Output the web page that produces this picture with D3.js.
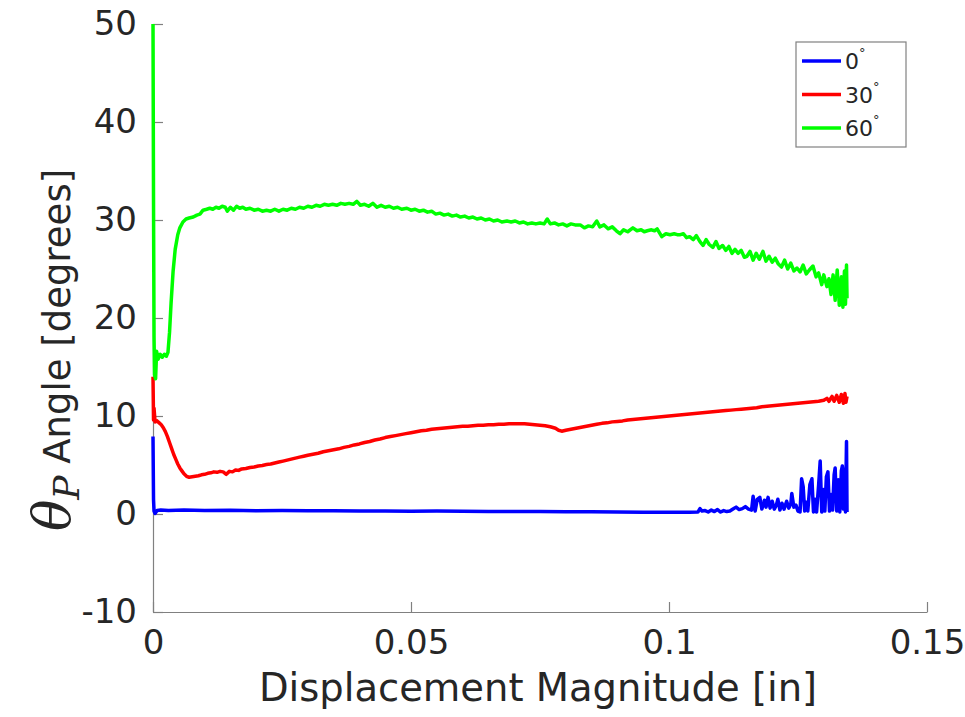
<!DOCTYPE html>
<html>
<head>
<meta charset="utf-8">
<script src="https://cdn.jsdelivr.net/npm/d3@7/dist/d3.min.js"></script>
<style>
  html, body { margin: 0; padding: 0; background: #fff; }
  svg { display: block; }
</style>
</head>
<body>
<svg id="chart" width="965" height="717"></svg>
<script>
// ---------------- DATA ----------------
const seriesNames = ["0", "30", "60"];
const seriesColors = ["#0000ff", "#ff0000", "#00ff00"];
const xTicks = [0, 0.05, 0.1, 0.15];
const xTickLabels = ["0", "0.05", "0.1", "0.15"];
const yTicks = [-10, 0, 10, 20, 30, 40, 50];
const yTickLabels = ["-10", "0", "10", "20", "30", "40", "50"];

// 60 deg series [displacement, angle]
const data60 = [
  [0,50],[0.0001,32],[0.0002,18],[0.0003,14.2],[0.0005,13.8],[0.0007,16.6],[0.0010,15.8],[0.0014,16.3],
  [0.0018,16.0],[0.0022,16.3],[0.0026,16.1],[0.0029,16.5],[0.0032,18.5],[0.0035,21.5],[0.0039,24.8],
  [0.0043,27.0],[0.0048,28.5],[0.0052,29.2],[0.0058,29.8],[0.0064,30.1],[0.0070,30.2],[0.0078,30.3],
  [0.0085,30.5],[0.0091,30.6],[0.0097,31.0],[0.0104,31.1],[0.0110,31.2],[0.0116,31.1],[0.0122,31.3],
  [0.0128,31.2],[0.0134,31.4],[0.0140,31.3],[0.0144,30.9],[0.0150,31.3],[0.0156,31.0],[0.0162,31.4],
  [0.0168,31.2],[0.0174,31.3],[0.0180,31.1],[0.0188,31.2],[0.0196,31.0],[0.0204,31.1],[0.0212,30.9],
  [0.0220,31.0],[0.0228,30.9],[0.0236,31.1],[0.0244,30.9],[0.0252,31.1],[0.0260,31.0],[0.0268,31.2],
  [0.0276,31.1],[0.0284,31.3],[0.0292,31.2],[0.0300,31.4],[0.0308,31.3],[0.0316,31.5],[0.0324,31.4],
  [0.0332,31.6],[0.0340,31.5],[0.0348,31.6],[0.0356,31.5],[0.0364,31.7],[0.0372,31.6],[0.0380,31.7],
  [0.0388,31.6],[0.0395,31.9],[0.0402,31.5],[0.0410,31.6],[0.0418,31.4],[0.0426,31.7],[0.0434,31.3],
  [0.0442,31.5],[0.0450,31.3],[0.0458,31.4],[0.0466,31.2],[0.0474,31.3],[0.0482,31.1],[0.0492,31.2],
  [0.0500,31.0],[0.0508,31.1],[0.0516,30.9],[0.0524,31.0],[0.0532,30.8],[0.0540,30.9],[0.0548,30.6],
  [0.0556,30.7],[0.0564,30.5],[0.0572,30.6],[0.0580,30.4],[0.0588,30.5],[0.0596,30.3],[0.0604,30.4],
  [0.0612,30.2],[0.0620,30.3],[0.0628,30.1],[0.0636,30.2],[0.0644,30.0],[0.0652,30.1],[0.0660,29.9],
  [0.0668,30.0],[0.0676,29.8],[0.0686,29.9],[0.0694,29.8],[0.0702,29.9],[0.0710,29.7],[0.0718,29.8],
  [0.0726,29.6],[0.0734,29.7],[0.0742,29.6],[0.0750,29.7],[0.0758,29.6],[0.0764,30.1],[0.0770,29.6],
  [0.0778,29.7],[0.0786,29.5],[0.0794,29.6],[0.0802,29.4],[0.0810,29.6],[0.0818,29.5],[0.0828,29.5],
  [0.0836,29.2],[0.0844,29.4],[0.0852,29.3],[0.0860,29.9],[0.0866,29.3],[0.0874,29.5],[0.0882,29.1],
  [0.0890,29.3],[0.0898,28.9],[0.0905,28.6],[0.0912,29.0],[0.0920,28.8],[0.0930,29.2],[0.0938,28.9],
  [0.0946,29.0],[0.0952,28.8],[0.0958,28.9],[0.0966,29.0],[0.0972,28.9],[0.0977,29.1],[0.0986,28.3],
  [0.0994,28.6],[0.1002,28.5],[0.1010,28.6],[0.1016,28.5],[0.1022,28.5],[0.1028,28.6],[0.1034,28.2],
  [0.1040,28.3],[0.1047,28.0],[0.1053,28.4],[0.1060,27.8],[0.1066,27.4],[0.1072,28.0],[0.1078,27.5],
  [0.1085,27.2],[0.1091,27.8],[0.1097,27.1],[0.1104,27.4],[0.1110,26.9],[0.1116,27.3],[0.1122,26.6],
  [0.1128,27.0],[0.1134,26.6],[0.1140,26.9],[0.1146,26.2],[0.1151,26.3],[0.1157,26.8],[0.1163,25.9],
  [0.1169,26.6],[0.1175,26.0],[0.1182,26.8],[0.1188,25.8],[0.1194,26.3],[0.1200,25.7],[0.1206,26.1],
  [0.1212,25.5],[0.1218,25.2],[0.1224,25.9],[0.1230,25.0],[0.1236,25.6],[0.1242,24.8],[0.1248,25.1],
  [0.1254,24.7],[0.1260,25.4],[0.1266,24.5],[0.1272,24.9],[0.1279,25.3],[0.1285,24.2],[0.1290,24.6],
  [0.1296,23.4],[0.1300,24.4],[0.1306,23.2],[0.1310,24.0],[0.1314,22.4],[0.1318,24.4],[0.1322,21.8],
  [0.1326,24.9],[0.1330,21.3],[0.1334,24.2],[0.1337,21.1],[0.1340,24.8],[0.1342,21.4],[0.1344,25.4],
  [0.1345,22.0]
];

// 30 deg series
const data30 = [
  [0,14.0],[0.0001,9.6],[0.0002,10.8],[0.0004,9.4],[0.0008,9.5],[0.0012,9.3],[0.0016,9.1],[0.0020,8.8],
  [0.0024,8.4],[0.0028,7.9],[0.0032,7.3],[0.0036,6.7],[0.0040,6.1],[0.0044,5.6],[0.0048,5.1],[0.0052,4.7],
  [0.0056,4.4],[0.0060,4.1],[0.0065,3.85],[0.0070,3.75],[0.0076,3.8],[0.0082,3.85],[0.0088,3.9],
  [0.0094,4.0],[0.0100,4.05],[0.0106,4.15],[0.0112,4.2],[0.0118,4.3],[0.0124,4.25],[0.0130,4.35],
  [0.0136,4.3],[0.0142,4.05],[0.0148,4.35],[0.0154,4.3],[0.0160,4.5],[0.0166,4.45],[0.0172,4.6],
  [0.0180,4.65],[0.0188,4.75],[0.0196,4.8],[0.0204,4.9],[0.0212,4.95],[0.0220,5.05],[0.0228,5.1],
  [0.0236,5.2],[0.0244,5.3],[0.0252,5.4],[0.0260,5.5],[0.0268,5.6],[0.0276,5.7],[0.0284,5.8],
  [0.0292,5.9],[0.0300,6.0],[0.0310,6.1],[0.0320,6.2],[0.0330,6.35],[0.0340,6.45],[0.0350,6.55],
  [0.0360,6.65],[0.0370,6.8],[0.0380,6.9],[0.0390,7.05],[0.0400,7.15],[0.0410,7.3],[0.0420,7.4],
  [0.0430,7.55],[0.0440,7.65],[0.0450,7.8],[0.0460,7.9],[0.0470,8.0],[0.0480,8.1],[0.0490,8.2],
  [0.0500,8.3],[0.0510,8.4],[0.0520,8.5],[0.0530,8.55],[0.0540,8.65],[0.0550,8.7],[0.0560,8.75],
  [0.0570,8.8],[0.0580,8.85],[0.0590,8.9],[0.0600,8.95],[0.0610,8.95],[0.0620,9.0],[0.0630,9.05],
  [0.0640,9.05],[0.0650,9.1],[0.0660,9.1],[0.0670,9.15],[0.0680,9.15],[0.0690,9.2],[0.0700,9.2],
  [0.0710,9.2],[0.0720,9.2],[0.0730,9.15],[0.0740,9.1],[0.0750,9.05],[0.0760,9.0],[0.0770,8.9],
  [0.0780,8.75],[0.0786,8.55],[0.0792,8.45],[0.0800,8.55],[0.0810,8.65],[0.0820,8.75],[0.0830,8.85],
  [0.0840,8.95],[0.0850,9.05],[0.0860,9.15],[0.0870,9.25],[0.0880,9.3],[0.0890,9.4],[0.0900,9.45],
  [0.0910,9.5],[0.0920,9.6],[0.0930,9.65],[0.0940,9.7],[0.0950,9.75],[0.0960,9.8],[0.0970,9.85],
  [0.0980,9.9],[0.0990,9.95],[0.1000,10.0],[0.1010,10.05],[0.1020,10.1],[0.1030,10.15],[0.1040,10.2],
  [0.1050,10.25],[0.1060,10.3],[0.1070,10.35],[0.1080,10.4],[0.1090,10.45],[0.1100,10.5],[0.1110,10.55],
  [0.1120,10.6],[0.1130,10.65],[0.1140,10.7],[0.1150,10.75],[0.1160,10.8],[0.1170,10.85],[0.1180,10.95],
  [0.1190,11.0],[0.1200,11.05],[0.1210,11.1],[0.1220,11.15],[0.1230,11.2],[0.1240,11.25],[0.1250,11.3],
  [0.1260,11.35],[0.1270,11.4],[0.1280,11.45],[0.1290,11.5],[0.1300,11.6],[0.1306,11.8],[0.1310,11.5],
  [0.1316,12.0],[0.1320,11.5],[0.1325,12.1],[0.1330,11.4],[0.1334,12.2],[0.1338,11.3],[0.1341,12.3],
  [0.1343,11.4],[0.1345,12.0]
];

// 0 deg series
const data0 = [
  [0,7.9],[0.0001,1.5],[0.0002,0.3],[0.0004,0.05],[0.0008,0.35],[0.0015,0.4],[0.003,0.35],[0.006,0.4],
  [0.01,0.35],[0.015,0.38],[0.02,0.33],[0.025,0.35],[0.03,0.32],[0.035,0.33],[0.04,0.3],[0.045,0.3],
  [0.05,0.28],[0.055,0.3],[0.06,0.27],[0.065,0.26],[0.07,0.25],[0.075,0.25],[0.08,0.24],[0.085,0.22],
  [0.09,0.2],[0.095,0.18],[0.10,0.17],[0.104,0.18],[0.1056,0.2],[0.1060,0.55],[0.1064,0.3],[0.1070,0.35],
  [0.1076,0.2],[0.1082,0.4],[0.1088,0.25],[0.1094,0.45],[0.1100,0.2],[0.1106,0.35],[0.1112,0.25],
  [0.1118,0.3],[0.1124,0.5],[0.1130,0.7],[0.1136,0.45],[0.1142,0.55],[0.1148,0.75],[0.1154,0.5],
  [0.1160,0.4],[0.1163,1.8],[0.1167,0.3],[0.1171,1.5],[0.1176,1.7],[0.1180,0.5],[0.1185,1.4],
  [0.1188,0.7],[0.1192,1.7],[0.1196,0.6],[0.1200,1.3],[0.1204,0.5],[0.1208,0.9],[0.1211,1.5],
  [0.1215,0.4],[0.1219,1.1],[0.1223,0.5],[0.1228,1.3],[0.1232,0.6],[0.1236,1.0],[0.1238,2.1],
  [0.1242,0.7],[0.1246,0.9],[0.1250,0.3],[0.1254,0.2],[0.1257,3.6],[0.1260,2.8],[0.1263,0.3],
  [0.1266,1.2],[0.1269,0.3],[0.1273,3.0],[0.1277,3.6],[0.1280,0.2],[0.1283,1.5],[0.1286,0.2],
  [0.1290,3.0],[0.1293,5.4],[0.1296,0.2],[0.1299,2.5],[0.1302,0.3],[0.1305,3.8],[0.1308,4.3],
  [0.1311,0.3],[0.1314,2.0],[0.1317,0.4],[0.1320,4.0],[0.1322,4.7],[0.1325,0.3],[0.1328,3.5],
  [0.1331,0.2],[0.1334,4.4],[0.1336,4.9],[0.1338,0.5],[0.1340,4.6],[0.1342,0.2],[0.1344,7.4],
  [0.1345,0.2]
];

const allSeries = [data0, data30, data60];

// ---------------- CHART ----------------
const svg = d3.select("#chart");
const X0 = 153, X1 = 927, Y0 = 612, Y1 = 24;
const x = d3.scaleLinear().domain([0, 0.15]).range([X0, X1]);
const y = d3.scaleLinear().domain([-10, 50]).range([Y0, Y1]);

const axisColor = "#808080";
const textColor = "#262626";
const font = "'DejaVu Sans', sans-serif";

// x axis
const xAxis = d3.axisBottom(x).tickValues(xTicks)
  .tickFormat((d, i) => xTickLabels[i]).tickSizeInner(-10).tickSizeOuter(0).tickPadding(18);
const gx = svg.append("g").attr("transform", `translate(0,${Y0})`).call(xAxis);
gx.select(".domain").attr("stroke", axisColor).attr("stroke-width", 1.2);
gx.selectAll(".tick line").attr("stroke", axisColor).attr("stroke-width", 1.2);
gx.selectAll(".tick text").attr("fill", textColor).style("font-family", font).style("font-size", "34px");

// y axis
const yAxis = d3.axisLeft(y).tickValues(yTicks)
  .tickFormat((d, i) => yTickLabels[i]).tickSizeInner(-10).tickSizeOuter(0).tickPadding(16);
const gy = svg.append("g").attr("transform", `translate(${X0},0)`).call(yAxis);
gy.select(".domain").attr("stroke", axisColor).attr("stroke-width", 1.2);
gy.selectAll(".tick line").attr("stroke", axisColor).attr("stroke-width", 1.2);
gy.selectAll(".tick text").attr("fill", textColor).style("font-family", font).style("font-size", "34px");

// lines
const line = d3.line().x(d => x(d[0])).y(d => y(d[1]));
const gl = svg.append("g");
allSeries.forEach((s, i) => {
  gl.append("path").datum(s).attr("d", line)
    .attr("fill", "none").attr("stroke", seriesColors[i])
    .attr("stroke-width", 3.5).attr("stroke-linejoin", "round");
});

// x label
svg.append("text").attr("x", (X0 + X1) / 2 - 2).attr("y", 701)
  .attr("text-anchor", "middle").attr("fill", textColor)
  .style("font-family", font).style("font-size", "38.5px")
  .text("Displacement Magnitude [in]");

// y label
const yl = svg.append("text")
  .attr("transform", "translate(70,350) rotate(-90)")
  .attr("text-anchor", "middle").attr("fill", textColor)
  .style("font-family", font).style("font-size", "37px");
yl.append("tspan").style("font-family", "'DejaVu Serif', serif").style("font-style", "italic")
  .style("font-size", "52px").text("θ");
yl.append("tspan").style("font-family", "'DejaVu Serif', serif").style("font-style", "italic")
  .style("font-size", "36px").attr("dy", 9).text("P");
yl.append("tspan").attr("dy", -9).text(" Angle [degrees]");

// legend
const lg = svg.append("g");
lg.append("rect").attr("x", 796).attr("y", 42).attr("width", 110).attr("height", 105)
  .attr("fill", "#fff").attr("stroke", "#808080").attr("stroke-width", 1.2);
seriesNames.forEach((n, i) => {
  const ly = 61 + i * 33.5;
  lg.append("line").attr("x1", 802).attr("x2", 841).attr("y1", ly).attr("y2", ly)
    .attr("stroke", seriesColors[i]).attr("stroke-width", 3.5);
  const t = lg.append("text").attr("x", 845).attr("y", ly + 8).attr("fill", textColor)
    .style("font-family", font).style("font-size", "22px");
  t.append("tspan").text(n);
  t.append("tspan").attr("dy", -12).style("font-size", "13px").text("°");
});
</script>
</body>
</html>
